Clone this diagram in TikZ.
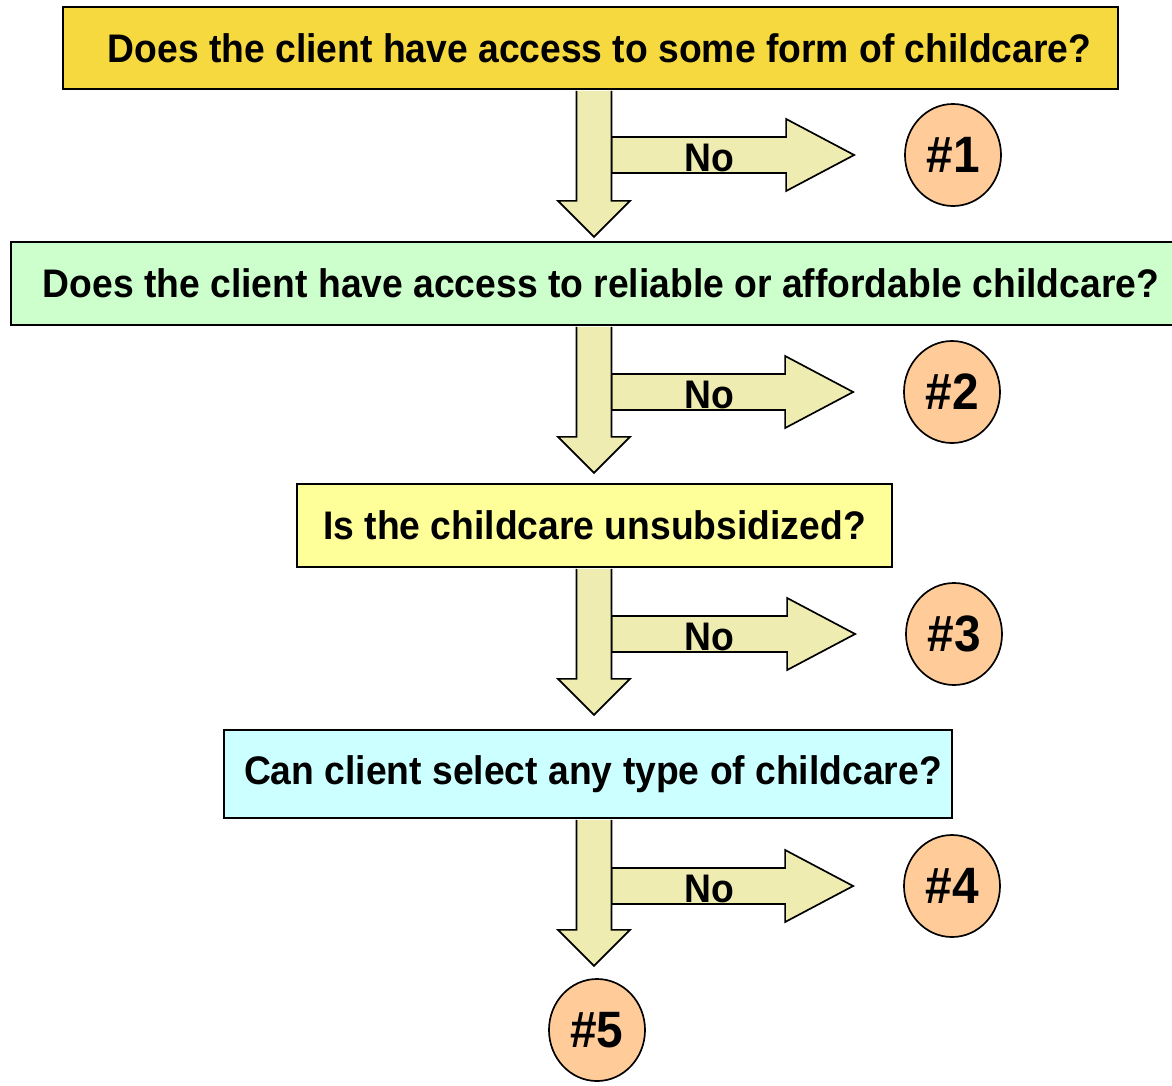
\documentclass[tikz,border=0pt]{standalone}
\usepackage{graphicx}
\usepackage{fontspec}
\setmainfont{Liberation Sans}
\usetikzlibrary{calc,shapes.geometric}
\definecolor{gold}{RGB}{245,217,63}
\definecolor{mint}{RGB}{204,255,204}
\definecolor{lemon}{RGB}{255,255,153}
\definecolor{sky}{RGB}{204,255,255}
\definecolor{peach}{RGB}{255,204,153}
\definecolor{khaki}{RGB}{238,236,176}
\newcommand{\tall}[1]{\scalebox{1}[1.07]{#1}}
\begin{document}
\begin{tikzpicture} [
  x=0.025cm, y=-0.025cm,
  line width=1.2pt,
  question/.style= {rectangle,draw,inner sep=0,font=\bfseries\fontsize{26.5}{30}\selectfont},
  outcome/.style= {ellipse,draw,fill=peach,inner sep=0,minimum width=2.4cm,minimum height=2.55cm,font=\bfseries\fontsize{34}{40}\selectfont},
  flow/.style= {draw,fill=khaki,line join=miter},
  answer/.style= {anchor=base,inner sep=0,font=\bfseries\fontsize{26.5}{30}\selectfont},
]
\useasboundingbox (0,0) rectangle (1172,1086);
\coordinate (axis) at (594,0);

\node (q1) [question,fill=gold,minimum width=26.375cm,minimum height=2.05cm] at (590.5,48) {\hspace*{0.45cm}\tall{Does the client have access to some form of childcare?}};
\node (q2) [question,fill=mint,minimum width=29.5cm,minimum height=2.075cm] at (601,283.5) {\tall{Does the client have access to reliable or affordable childcare?}};
\node (q3) [question,fill=lemon,minimum width=14.875cm,minimum height=2.075cm] at (594.5,525.5) {\tall{Is the childcare unsubsidized?}};
\node (q4) [question,fill=sky,minimum width=18.2cm,minimum height=2.2cm] at (588,774) {\hspace*{0.25cm}\tall{Can client select any type of childcare?}};

\node (r1) [outcome] at (953,155) {\tall{\#1}};
\node (r2) [outcome] at (952,392) {\tall{\#2}};
\node (r3) [outcome] at (954,634) {\tall{\#3}};
\node (r4) [outcome] at (952,886) {\tall{\#4}};
\node (r5) [outcome] at (597,1030) {\tall{\#5}};

% "No" branch to the right, then the fat arrow down
\foreach \q/\r/\k in {q1/r1/1,q2/r2/2,q3/r3/3,q4/r4/4} {
  \draw [flow] ($(\r.center -| axis)+(17.5,-18)$) -- ($(\r.west)+(-118,-18)$) -- ($(\r.west)+(-118,-36)$)
    -- ($(\r.west)+(-50,0)$) -- ($(\r.west)+(-118,36)$) -- ($(\r.west)+(-118,18)$) -- ($(\r.center -| axis)+(17.5,18)$) -- cycle;
  \node (no\k) [answer] at ($(\r.center -| axis)+(115,16)$) {\tall{No}};
  \draw [flow] ($(\q.south -| axis)+(-17.5,1)$) -- ($(\q.south -| axis)+(-17.5,111)$) -- ($(\q.south -| axis)+(-36,111)$)
    -- ($(\q.south -| axis)+(0,147)$) -- ($(\q.south -| axis)+(36,111)$) -- ($(\q.south -| axis)+(17.5,111)$) -- ($(\q.south -| axis)+(17.5,1)$);
}
\end{tikzpicture}
\end{document}
